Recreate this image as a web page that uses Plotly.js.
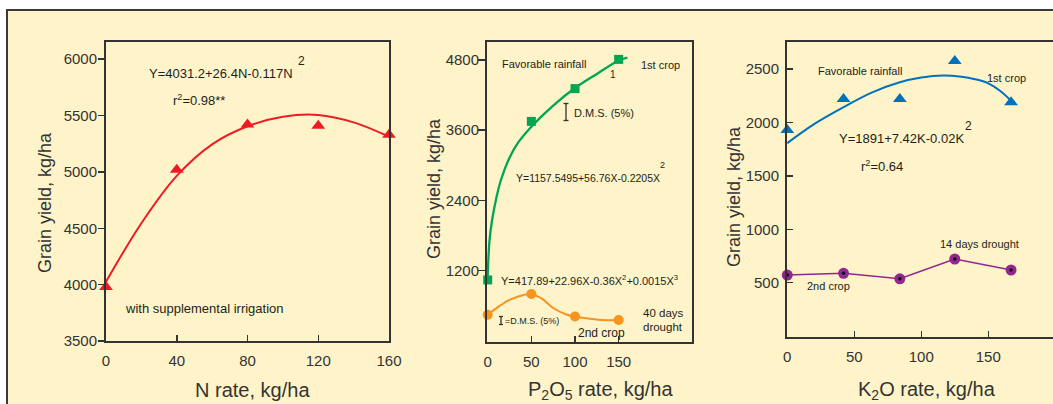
<!DOCTYPE html>
<html>
<head>
<meta charset="utf-8">
<script src="https://cdn.plot.ly/plotly-3.0.1.min.js"></script>
<style>html,body{margin:0;padding:0;background:#fff;}#chart{width:1053px;height:404px;}</style>
</head>
<body>
<div id="chart"></div>
<script>
// ---- Data ----
var nRate = [0, 40, 80, 120, 160];
var nYield = [3980, 5020, 5420, 5410, 5330];
var nFitRate = [0, 20, 40, 60, 80, 100, 120, 140, 160];
var nFitYield = [4026, 4545, 4965, 5245, 5405, 5490, 5506, 5440, 5313];

var pRate = [0, 50, 100, 150];
var p1stYield = [1040, 3750, 4310, 4810];
var p2ndYield = [445, 800, 415, 355];
var p1stFitRate = [0, 2, 5, 10, 15, 25, 35, 50, 75, 100, 125, 150, 160];
var p1stFitYield = [1100, 1700, 2060, 2450, 2740, 3130, 3390, 3660, 4020, 4320, 4560, 4790, 4840];
var p2ndFitRate = [0, 12, 25, 40, 50, 62, 75, 90, 100, 115, 130, 150];
var p2ndFitYield = [445, 580, 700, 780, 800, 720, 560, 450, 415, 380, 355, 355];

var kRate = [0, 42, 84, 125, 167];
var k1stYield = [1930, 2220, 2220, 2575, 2190];
var k2ndYield = [572, 588, 537, 722, 619];
var k1stFitRate = [0, 20, 42, 63, 84, 100, 116, 130, 140, 150, 159, 167];
var k1stFitYield = [1807, 1985, 2144, 2280, 2376, 2420, 2440, 2428, 2405, 2366, 2295, 2203];

var nTicks = [0, 40, 80, 120, 160];
var nYTicks = [3500, 4000, 4500, 5000, 5500, 6000];
var pTicks = [0, 50, 100, 150];
var pYTicks = [1200, 2400, 3600, 4800];
var kTicks = [0, 50, 100, 150];
var kYTicks = [500, 1000, 1500, 2000, 2500];

// ---- Styling ----
var W = 1053, H = 404;
function px(x) { return x / W; }
function py(y) { return 1 - y / H; }
var FONT = 'Liberation Sans, Arial, sans-serif';
var TXT = '#231f20';
var AX = '#333333';
var BG = '#fff3c9';

var traces = [
  {x: nFitRate, y: nFitYield, xaxis: 'x', yaxis: 'y', mode: 'lines', line: {color: '#ed1c24', width: 2, shape: 'spline', smoothing: 1}, hoverinfo: 'skip'},
  {x: nRate, y: nYield, xaxis: 'x', yaxis: 'y', mode: 'markers', cliponaxis: false, marker: {symbol: 'triangle-up', size: 12, color: '#ed1c24'}},

  {x: p1stFitRate, y: p1stFitYield, xaxis: 'x2', yaxis: 'y2', mode: 'lines', line: {color: '#00a651', width: 2.3, shape: 'spline', smoothing: 1}, hoverinfo: 'skip'},
  {x: pRate, y: p1stYield, xaxis: 'x2', yaxis: 'y2', mode: 'markers', cliponaxis: false, marker: {symbol: 'square', size: 9, color: '#00a651'}},
  {x: p2ndFitRate, y: p2ndFitYield, xaxis: 'x2', yaxis: 'y2', mode: 'lines', line: {color: '#f7941d', width: 2, shape: 'spline', smoothing: 1}, hoverinfo: 'skip'},
  {x: pRate, y: p2ndYield, xaxis: 'x2', yaxis: 'y2', mode: 'markers', cliponaxis: false, marker: {symbol: 'circle', size: 10, color: '#f7941d'}},

  {x: k1stFitRate, y: k1stFitYield, xaxis: 'x3', yaxis: 'y3', mode: 'lines', line: {color: '#0072bc', width: 2, shape: 'spline', smoothing: 1}, hoverinfo: 'skip'},
  {x: kRate, y: k1stYield, xaxis: 'x3', yaxis: 'y3', mode: 'markers', cliponaxis: false, marker: {symbol: 'triangle-up', size: 12, color: '#0072bc'}},
  {x: kRate, y: k2ndYield, xaxis: 'x3', yaxis: 'y3', mode: 'lines+markers', cliponaxis: false, line: {color: '#92278f', width: 1.6}, marker: {symbol: 'circle', size: 11, color: '#92278f'}},
  {x: kRate, y: k2ndYield, xaxis: 'x3', yaxis: 'y3', mode: 'markers', cliponaxis: false, marker: {symbol: 'circle', size: 3.5, color: '#111'}}
];

function xax(domain, range, ticks, anchor) {
  return {domain: domain, range: range, tickvals: ticks, ticktext: ticks.map(String), anchor: anchor,
    showline: true, linecolor: AX, linewidth: 2, mirror: true, showgrid: false, zeroline: false,
    ticks: 'inside', ticklen: 6, tickwidth: 1.5, tickcolor: AX, ticklabelstandoff: 5,
    tickfont: {family: FONT, size: 15, color: AX}};
}
function yax(domain, range, ticks, anchor, mirror, tickdir, ticklen, standoff) {
  return {domain: domain, range: range, tickvals: ticks, ticktext: ticks.map(String), anchor: anchor,
    showline: true, linecolor: AX, linewidth: 2, mirror: mirror, showgrid: false, zeroline: false,
    ticks: tickdir, ticklen: ticklen, tickwidth: 1.5, tickcolor: AX, ticklabelstandoff: standoff,
    tickfont: {family: FONT, size: 15, color: AX}};
}

function ann(text, x, y, size, opts) {
  var a = {text: text, x: px(x), y: py(y), xref: 'paper', yref: 'paper', showarrow: false,
    xanchor: 'left', yanchor: 'middle', font: {family: FONT, size: size, color: TXT}};
  if (opts) for (var k in opts) a[k] = opts[k];
  return a;
}

var annotations = [
  // left panel
  ann('Y=4031.2+26.4N-0.117N', 147, 74, 13),
  ann('2', 296, 61, 12),
  ann('r<sup>2</sup>=0.98**', 171, 100, 13),
  ann('with supplemental irrigation', 123, 308, 13),
  // middle panel
  ann('Favorable rainfall', 500, 63.5, 11),
  ann('1st crop', 639, 64.5, 11),
  ann('1', 608, 75, 10),
  ann('D.M.S. (5%)', 572, 113, 11),
  ann('Y=1157.5495+56.76X-0.2205X', 514, 178, 10.5),
  ann('2', 658, 165, 9),
  ann('Y=417.89+22.96X-0.36X<sup>2</sup>+0.0015X<sup>3</sup>', 499, 280, 11),
  ann('=D.M.S. (5%)', 503, 321, 9),
  ann('2nd crop', 576, 332.5, 12),
  ann('40 days', 641, 312.5, 11.5),
  ann('drought', 641, 327, 11.5),
  // right panel
  ann('Favorable rainfall', 816, 71, 11),
  ann('1st crop', 985, 78, 11),
  ann('Y=1891+7.42K-0.02K', 837, 138.5, 13),
  ann('2', 963, 126, 12),
  ann('r<sup>2</sup>=0.64', 859, 166, 13),
  ann('14 days drought', 938, 244, 11),
  ann('2nd crop', 805, 286, 11),
  // axis titles
  ann('Grain yield, kg/ha', 45, 203, 18, {xanchor: 'center', textangle: -90, font: {family: FONT, size: 18, color: AX}}),
  ann('Grain yield, kg/ha', 434, 188, 18, {xanchor: 'center', textangle: -90, font: {family: FONT, size: 18, color: AX}}),
  ann('Grain yield, kg/ha', 734, 197, 18, {xanchor: 'center', textangle: -90, font: {family: FONT, size: 18, color: AX}}),
  ann('N rate, kg/ha', 252, 390, 20, {xanchor: 'center', font: {family: FONT, size: 20, color: AX}}),
  ann('P<sub>2</sub>O<sub>5</sub> rate, kg/ha', 600, 390, 20, {xanchor: 'center', font: {family: FONT, size: 20, color: AX}}),
  ann('K<sub>2</sub>O rate, kg/ha', 927, 390, 20, {xanchor: 'center', font: {family: FONT, size: 20, color: AX}})
];

function seg(x0, y0, x1, y1) {
  return {type: 'line', xref: 'paper', yref: 'paper', x0: px(x0), y0: py(y0), x1: px(x1), y1: py(y1),
    line: {color: AX, width: 1.3}};
}

var shapes = [
  {type: 'rect', xref: 'paper', yref: 'paper', x0: px(7), y0: -0.1, x1: 1.1, y1: py(10),
    line: {color: '#3a3a3a', width: 2}, fillcolor: BG, layer: 'below'},
  // D.M.S. bars
  seg(566, 103.5, 566, 120.5), seg(563.5, 103.5, 568.5, 103.5), seg(563.5, 120.5, 568.5, 120.5),
  seg(501, 316.5, 501, 324.5), seg(499, 316.5, 503, 316.5), seg(499, 324.5, 503, 324.5)
];

var layout = {
  width: W, height: H,
  margin: {l: 0, r: 0, t: 0, b: 0},
  paper_bgcolor: '#ffffff',
  plot_bgcolor: 'rgba(0,0,0,0)',
  showlegend: false,
  xaxis: xax([px(106), px(389)], [0, 160], nTicks, 'y'),
  yaxis: yax([py(341), py(42)], [3500, 6153], nYTicks, 'x', true, 'outside', 6, -2),
  xaxis2: xax([px(487), px(692)], [-0.8, 234], pTicks, 'y2'),
  yaxis2: yax([py(341.5), py(41.7)], [-12, 5112], pYTicks, 'x2', true, 'outside', 7, -4),
  xaxis3: xax([px(787), 1], [-0.2, 198.3], kTicks, 'y3'),
  yaxis3: yax([py(337), py(41.7)], [-8, 2756], kYTicks, 'x3', false, 'inside', 6, 3),
  annotations: annotations,
  shapes: shapes
};

Plotly.newPlot('chart', traces, layout, {displayModeBar: false, staticPlot: true});
</script>
</body>
</html>
